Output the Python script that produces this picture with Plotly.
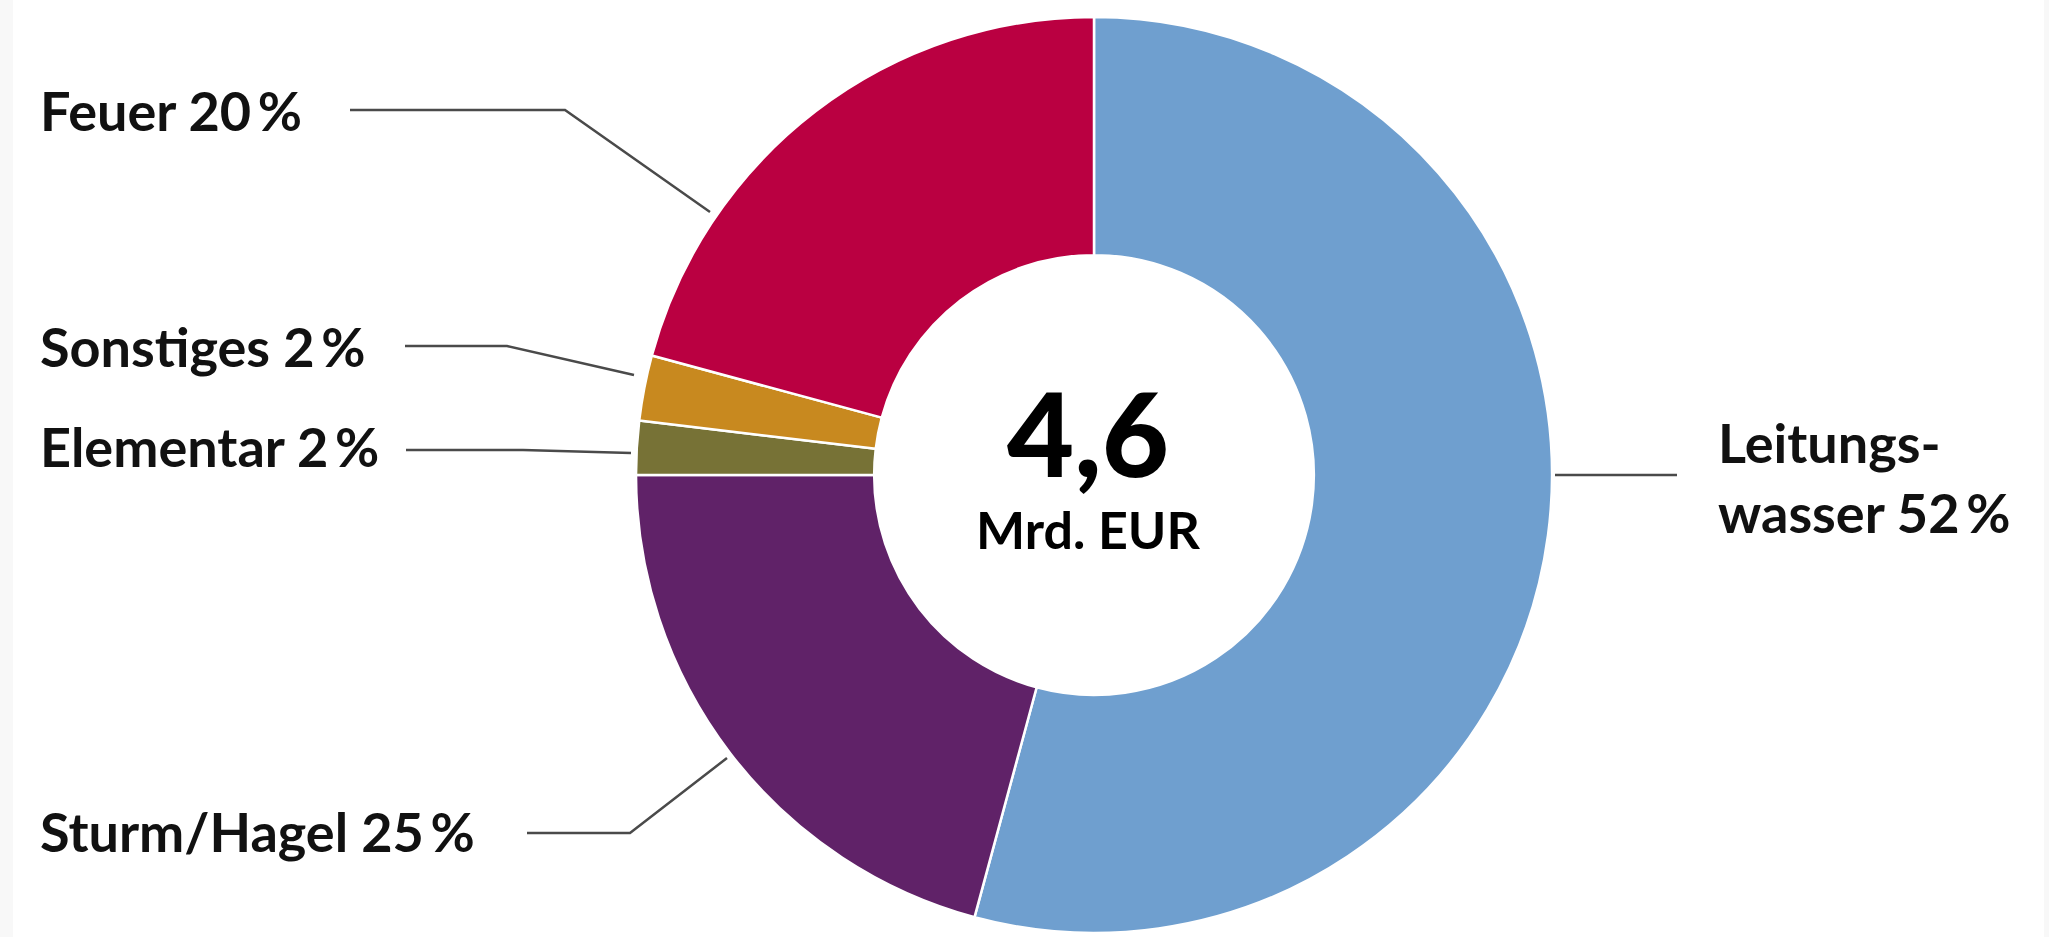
import plotly.graph_objects as go

# ---- data ----
categories = ["Leitungswasser", "Sturm/Hagel", "Elementar", "Sonstiges", "Feuer"]
# slice sizes as drawn in the picture (share of the ring)
values = [54.2, 20.8, 1.9, 2.3, 20.8]
label_texts = ["Leitungs-<br>wasser 52\u2009%", "Sturm/Hagel 25\u2009%", "Elementar 2\u2009%",
               "Sonstiges 2\u2009%", "Feuer 20\u2009%"]
colors = ["#6f9fcf", "#602268", "#777236", "#c8891f", "#ba0041"]
center_value = "4,6"
center_unit = "Mrd. EUR"

# ---- layout geometry (pixels) ----
W, H = 2049, 937
def px(x):
    return x / W
def py(y):
    return 1 - y / H

cx, cy, R = 1094, 475, 458

fig = go.Figure(go.Pie(
    labels=categories, values=values, sort=False, direction="clockwise", rotation=0,
    hole=0.48, textinfo="none", hoverinfo="label+percent",
    marker=dict(colors=colors, line=dict(color="white", width=2.5)),
    domain=dict(x=[px(cx - R), px(cx + R)], y=[py(cy + R), py(cy - R)]),
    showlegend=False,
))

font_family = "Lato, 'Open Sans', 'DejaVu Sans', sans-serif"

# label positions: (text x, text y, anchor, leader polyline)
label_layout = [
    (1716, 477, "left", [(1555, 475), (1677, 475)]),
    (38, 831, "left", [(527, 833), (630, 833), (727, 758)]),
    (38, 446, "left", [(406, 450), (523, 450), (631, 453)]),
    (38, 346, "left", [(405, 346), (507, 346), (634, 375)]),
    (38, 110, "left", [(350, 110), (565, 110), (710, 212)]),
]

annotations = []
shapes = []
for txt, (tx, ty, anc, pts) in zip(label_texts, label_layout):
    annotations.append(dict(
        x=px(tx), y=py(ty), xref="paper", yref="paper", text=txt, showarrow=False,
        xanchor=anc, yanchor="middle", align="left",
        font=dict(family=font_family, size=54, color="#111111", weight="bold"),
    ))
    path = "M " + " L ".join(f"{px(x)},{py(y)}" for x, y in pts)
    shapes.append(dict(type="path", xref="paper", yref="paper", path=path,
                       line=dict(color="#4a4a4a", width=2.5)))

annotations.append(dict(
    x=px(1088), y=py(432), xref="paper", yref="paper", text=center_value, showarrow=False,
    xanchor="center", yanchor="middle",
    font=dict(family=font_family, size=116, color="#000000", weight=900),
))
annotations.append(dict(
    x=px(1088), y=py(529), xref="paper", yref="paper", text=center_unit, showarrow=False,
    xanchor="center", yanchor="middle",
    font=dict(family=font_family, size=52, color="#000000", weight="bold"),
))

# faint frame stripes at the page edges
shapes.append(dict(type="rect", xref="paper", yref="paper", x0=0, x1=px(13), y0=0, y1=1,
                   fillcolor="#f8f8f8", line=dict(width=0), layer="below"))
shapes.append(dict(type="rect", xref="paper", yref="paper", x0=px(2044), x1=1, y0=0, y1=1,
                   fillcolor="#f8f8f8", line=dict(width=0), layer="below"))

fig.update_layout(
    width=W, height=H, margin=dict(l=0, r=0, t=0, b=0),
    paper_bgcolor="white", plot_bgcolor="white",
    annotations=annotations, shapes=shapes,
)

fig.write_html("out.html", config={"displayModeBar": False},
               post_script="document.body.style.margin='0';document.body.style.overflow='hidden';")
